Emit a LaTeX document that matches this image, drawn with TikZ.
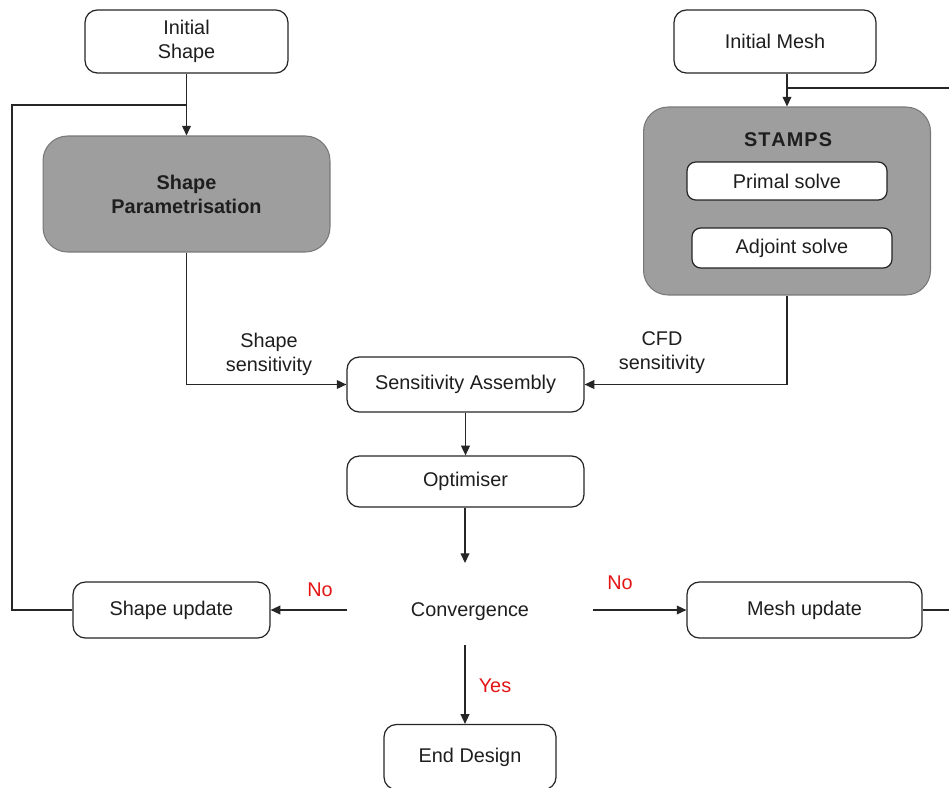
\documentclass[tikz,border=0pt]{standalone}
\usepackage{fontspec}
\setmainfont{Liberation Sans}
\usetikzlibrary{arrows.meta}
\definecolor{boxgray}{RGB}{158,158,158}
\definecolor{edgegray}{RGB}{120,120,120}
\definecolor{txt}{RGB}{30,30,30}
\definecolor{decision}{RGB}{228,20,20}
\begin{document}
\begin{tikzpicture}[
  x={(0.02cm,0)}, y={(0,-0.02cm)},
  font=\fontsize{11.3}{13.6}\selectfont, text=txt,
  flowbox/.style={draw=black!85, line width=0.7pt, rounded corners=7pt, fill=white,
    inner sep=0pt, align=center},
  stagebox/.style={draw=edgegray, line width=0.6pt, rounded corners=14pt, fill=boxgray,
    inner sep=0pt, align=center},
  link/.style={draw=black!85, line width=0.7pt},
  arrow/.style={link, -{Triangle[length=5.5pt,width=5pt]}},
  note/.style={align=center, inner sep=0pt},
  answer/.style={text=decision, inner sep=0pt}
]
\useasboundingbox (0,0) rectangle (949,787);

% start points
\node[flowbox, minimum width=4.06cm, minimum height=1.26cm] (iniShape) at (186.5,41.5) {Initial\\Shape};
\node[flowbox, minimum width=4.04cm, minimum height=1.26cm] (iniMesh) at (775,41.5) {Initial Mesh};

% geometry and flow solver stages
\node[stagebox, minimum width=5.74cm, minimum height=2.32cm] (param) at (186.5,194)
  {\bfseries Shape\\\bfseries Parametrisation};
\node[stagebox, minimum width=5.74cm, minimum height=3.76cm] (stamps) at (787,201) {};
\node[inner sep=0pt] (stampsTitle) at (788,140) {\bfseries S\kern0.6pt T\kern0.6pt A\kern0.6pt M\kern0.6pt P\kern0.6pt S};
\node[flowbox, rounded corners=5pt, minimum width=4.0cm, minimum height=0.76cm] (primal) at (787,181) {Primal solve};
\node[flowbox, rounded corners=5pt, minimum width=4.0cm, minimum height=0.80cm] (adjoint) at (792,248) {Adjoint solve};

% sensitivity and optimisation chain
\node[flowbox, minimum width=4.74cm, minimum height=1.10cm] (assembly) at (465.5,384.5) {Sensitivity Assembly};
\node[flowbox, minimum width=4.74cm, minimum height=1.02cm] (optimiser) at (465.5,481.5) {Optimiser};
\node[inner sep=0pt, minimum width=4.92cm] (conv) at (470,612) {Convergence};
\node[flowbox, minimum width=3.94cm, minimum height=1.12cm] (shapeUpd) at (171.5,610) {Shape update};
\node[flowbox, minimum width=4.70cm, minimum height=1.12cm] (meshUpd) at (804.5,610) {Mesh update};
\node[flowbox, minimum width=3.44cm, minimum height=1.30cm] (endDesign) at (470,757) {End Design};

% connector anchors
\coordinate (convTop) at (465,563);
\coordinate (convBot) at (465,645);
\coordinate (loopL) at (12,105);
\coordinate (joinS) at (187,105);
\coordinate (loopR) at (960,88);
\coordinate (joinM) at (787,88);

% labels
\node[note] (shapeSens) at (269,354) {Shape\\sensitivity};
\node[note] (cfdSens) at (662,353) {CFD\\sensitivity};
\node[answer] (noLeft) at (320,590) {No};
\node[answer] (noRight) at (620,583) {No};
\node[answer] (yes) at (495,686) {Yes};

% connectors
\draw[arrow] (iniShape.south) -- (param.north);
\draw[arrow] (iniMesh.south -| stamps.north) -- (stamps.north);
\draw[arrow] (param.south) |- (assembly.west);
\draw[arrow] (stamps.south) |- (assembly.east);
\draw[arrow] (assembly.south) -- (optimiser.north);
\draw[arrow] (optimiser.south -| convTop) -- (convTop);
\draw[arrow] (conv.west |- shapeUpd.east) -- (shapeUpd.east);
\draw[arrow] (conv.east |- meshUpd.west) -- (meshUpd.west);
\draw[arrow] (convBot) -- (convBot |- endDesign.north);
\draw[link] (shapeUpd.west) -| (loopL) -- (joinS);
\draw[link] (meshUpd.east) -| (loopR) -- (joinM);
\end{tikzpicture}
\end{document}
